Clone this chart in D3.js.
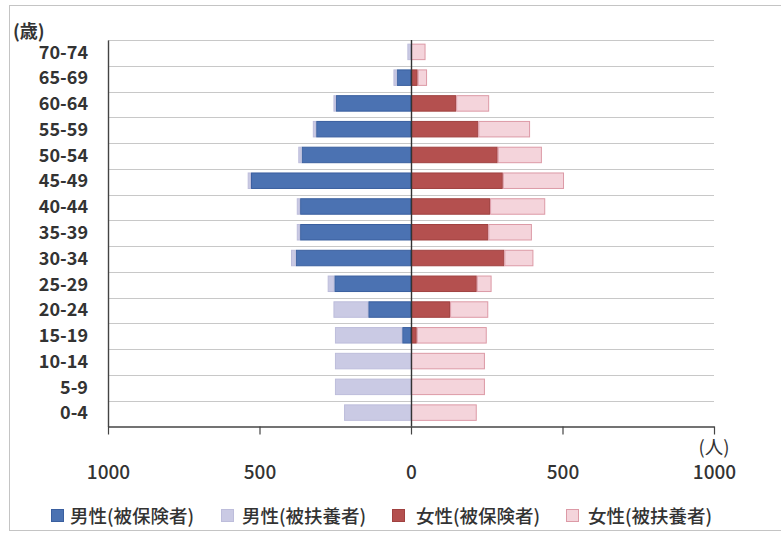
<!DOCTYPE html>
<html>
<head>
<meta charset="utf-8">
<script src="https://cdn.jsdelivr.net/npm/d3@7"></script>
<style>
  html, body { margin: 0; padding: 0; background: #fff; }
  svg { display: block; }
  text { font-family: "Noto Sans CJK JP", "Noto Sans", sans-serif; fill: #333; }
</style>
</head>
<body>
<svg id="chart" width="781" height="534"></svg>
<script>
// Age groups, youngest first
const ages = ["0-4","5-9","10-14","15-19","20-24","25-29","30-34","35-39","40-44","45-49","50-54","55-59","60-64","65-69","70-74"];

// Headcounts (人) per age group
const maleInsured     = [0, 0, 0, 29, 141, 253, 380, 366, 366, 528, 361, 313, 248, 47, 0];
const maleDependent   = [221, 251, 251, 222, 115, 22, 16, 11, 11, 11, 11, 11, 8, 11, 12];
const femaleInsured   = [0, 0, 0, 19, 129, 217, 308, 255, 261, 303, 286, 222, 149, 22, 0];
const femaleDependent = [217, 244, 244, 231, 126, 49, 96, 144, 182, 202, 146, 171, 109, 31, 48];

const xTicks = [-1000, -500, 0, 500, 1000];
const seriesNames = ["男性(被保険者)", "男性(被扶養者)", "女性(被保険者)", "女性(被扶養者)"];

const colors = {
  maleIns:   { fill: "#4b72b2", stroke: "#3a5f9f" },
  maleDep:   { fill: "#cacae4", stroke: "#bdbddb" },
  femaleIns: { fill: "#b4504f", stroke: "#a04140" },
  femaleDep: { fill: "#f4d4db", stroke: "#dc9aa6" }
};

const FONT = "\"Noto Sans CJK JP\", sans-serif";
const svg = d3.select("#chart");

// Outer frame
svg.append("rect")
  .attr("x", 9.5).attr("y", 5.5)
  .attr("width", 800).attr("height", 525)
  .attr("fill", "none").attr("stroke", "#c4c4c4");

const plotLeft = 108, plotRight = 714, plotTop = 40, plotBottom = 426.5;

const x = d3.scaleLinear().domain([-1000, 1000]).range([plotLeft, plotRight]);
const y = d3.scaleBand()
  .domain(ages.slice().reverse())
  .range([plotTop, plotBottom])
  .paddingInner(0.36)
  .paddingOuter(0.18);

// Horizontal gridlines at band boundaries
const boundaries = ages.map(a => y(a) + y.bandwidth() / 2 - y.step() / 2);
svg.append("g").selectAll("line")
  .data(boundaries)
  .join("line")
  .attr("x1", plotLeft).attr("x2", plotRight)
  .attr("y1", d => Math.round(d) + 0.5).attr("y2", d => Math.round(d) + 0.5)
  .attr("stroke", "#c8c8c8").attr("stroke-width", 1);

const rows = ages.map((a, i) => ({
  age: a,
  mi: maleInsured[i], md: maleDependent[i],
  fi: femaleInsured[i], fd: femaleDependent[i]
}));

const bars = svg.append("g");

function drawBars(x0, x1, col) {
  bars.append("g").selectAll("rect")
    .data(rows.filter(d => x1(d) - x0(d) > 0))
    .join("rect")
    .attr("x", d => x(x0(d)) + 0.5)
    .attr("width", d => Math.max(0, x(x1(d)) - x(x0(d)) - 1))
    .attr("y", d => y(d.age) - 1 + 0.5)
    .attr("height", y.bandwidth() - 1)
    .attr("fill", col.fill)
    .attr("stroke", col.stroke)
    .attr("stroke-width", 1);
}

// Male: insured next to the centre, dependents outward
drawBars(d => -d.mi, d => 0, colors.maleIns);
drawBars(d => -(d.mi + d.md), d => -d.mi, colors.maleDep);
// Female
drawBars(d => 0, d => d.fi, colors.femaleIns);
drawBars(d => d.fi, d => d.fi + d.fd, colors.femaleDep);

// Centre line
svg.append("line")
  .attr("x1", x(0) + 0.5).attr("x2", x(0) + 0.5)
  .attr("y1", plotTop).attr("y2", plotBottom)
  .attr("stroke", "#333").attr("stroke-width", 1.4);

// Bottom axis
const xAxis = d3.axisBottom(x)
  .tickValues(xTicks)
  .tickSize(8)
  .tickSizeOuter(0)
  .tickPadding(31)
  .tickFormat(d => Math.abs(d));

const gx = svg.append("g")
  .attr("transform", `translate(0,${plotBottom})`)
  .call(xAxis);
gx.select(".domain").attr("stroke", "#444").attr("stroke-width", 1.4);
gx.selectAll(".tick line").attr("stroke", "#444").attr("stroke-width", 1.2);
gx.selectAll(".tick text")
  .style("font-size", "19px")
  .style("font-weight", "500")
  .style("font-family", FONT)
  .attr("fill", "#333");

// Left axis with age labels
const yAxis = d3.axisLeft(y).tickSize(0).tickPadding(20);
const gy = svg.append("g")
  .attr("transform", `translate(${plotLeft},0)`)
  .call(yAxis);
gy.select(".domain").attr("stroke", "#444").attr("stroke-width", 1.4);
gy.selectAll(".tick text")
  .style("font-size", "18px")
  .style("font-weight", "bold")
  .style("font-family", FONT)
  .attr("fill", "#3a3a3a");

// Unit labels
svg.append("text")
  .attr("x", 13).attr("y", 38)
  .style("font-size", "18px").style("font-weight", "bold")
  .attr("fill", "#3a3a3a")
  .text("(歳)");
svg.append("text")
  .attr("x", plotRight).attr("y", 454)
  .attr("text-anchor", "middle")
  .style("font-size", "18.5px")
  .text("(人)");

// Legend
const legendItems = [
  { name: seriesNames[0], col: colors.maleIns,   sx: 51,  tx: 70 },
  { name: seriesNames[1], col: colors.maleDep,   sx: 221, tx: 242 },
  { name: seriesNames[2], col: colors.femaleIns, sx: 392, tx: 416 },
  { name: seriesNames[3], col: colors.femaleDep, sx: 566, tx: 588 }
];
const lg = svg.append("g");
legendItems.forEach(it => {
  lg.append("rect")
    .attr("x", it.sx + 0.5).attr("y", 509.5)
    .attr("width", 12).attr("height", 12)
    .attr("fill", it.col.fill).attr("stroke", it.col.stroke);
  lg.append("text")
    .attr("x", it.tx).attr("y", 523)
    .style("font-size", "18.5px")
    .style("font-weight", "500")
    .text(it.name);
});
</script>
</body>
</html>
